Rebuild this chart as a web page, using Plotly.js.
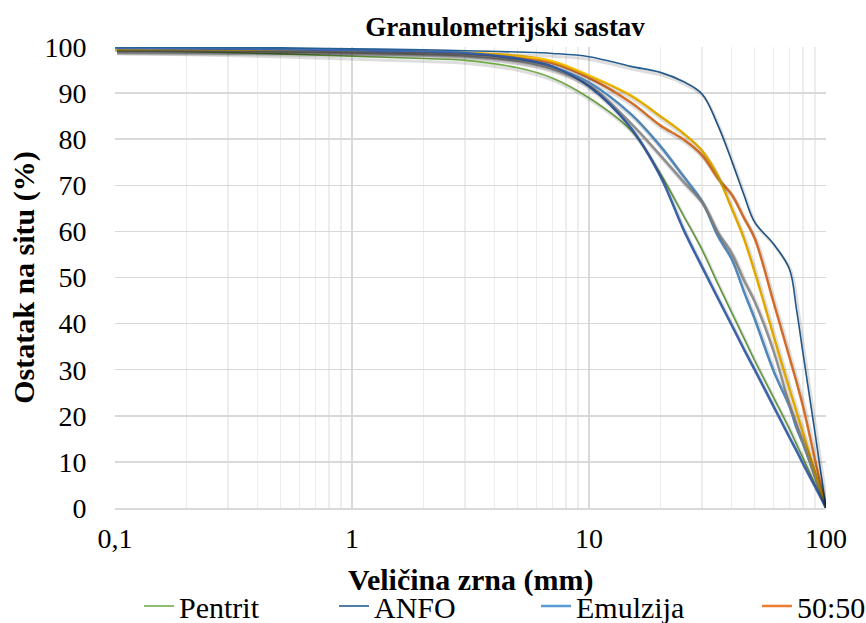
<!DOCTYPE html>
<html>
<head>
<meta charset="utf-8">
<script src="https://cdn.plot.ly/plotly-3.0.1.min.js"></script>
<style>html,body{margin:0;padding:0;background:#fff;}#chart{width:866px;height:623px;}</style>
</head>
<body>
<div id="chart"></div>
<script>
// Grain size (mm)
const grainSize = [0.1,0.2,0.5,1,2,3,5,7,10,15,20,25,30,35,40,45,50,60,70,75,80,90,100];
// Residue on sieve (%)
const pentrit  = [99.2,99.0,98.5,98.0,97.5,97.1,95.5,93.3,89.0,82.0,72.5,63.5,56.0,48.6,42.4,36.9,32.0,24.0,17.2,13.9,10.8,5.1,0];
const anfo     = [100,99.9,99.8,99.6,99.4,99.2,98.9,98.6,97.9,95.8,94.5,92.5,89.8,83.0,75.3,68.0,62.0,57.3,51.9,43.2,33.5,16.0,0];
const emulzija = [99.6,99.5,99.3,99.1,98.8,98.4,97.2,95.6,92.3,85.5,78.5,72.0,66.5,59.0,54.0,47.0,41.0,29.8,22.1,17.4,13.9,6.6,0];
const mix5050  = [99.5,99.4,99.3,99.1,98.9,98.6,97.8,96.5,93.3,88.0,83.0,80.0,76.5,71.5,68.0,63.0,58.5,44.7,32.8,27.4,22.0,10.3,0];
const series5  = [99.3,99.2,99.0,98.8,98.5,98.2,97.0,95.3,91.8,83.5,76.5,70.8,66.3,59.8,55.3,49.5,44.8,34.1,22.5,18.2,14.2,6.7,0];
const series6  = [99.5,99.5,99.4,99.3,99.1,98.8,98.1,96.9,93.8,89.5,85.0,81.3,77.5,72.0,65.0,58.5,51.2,37.4,25.9,20.9,16.3,7.7,0];
const series7  = [99.8,99.7,99.5,99.3,99.0,98.7,97.5,95.8,91.5,82.5,72.0,60.5,52.3,45.5,39.7,34.5,30.0,22.1,15.4,12.5,9.6,4.6,0];

const xTickVals = [0.1,1,10,100];
const xTickText = ['0,1','1','10','100'];
const xMinorVals = [0.2,0.3,0.4,0.5,0.6,0.7,0.8,0.9,2,3,4,5,6,7,8,9,20,30,40,50,60,70,80,90];
const xTitle = 'Veličina zrna (mm)';

const FONT = 'Liberation Serif';

// plot area: 711 px wide (3 decades), 461 px tall (100 units)
const SHX = 2 * 3 / 711;     // shadow shift right (log units)
const SHY = 3 * 100 / 461;   // shadow shift down (value units)

const specs = [
  ['Pentrit', pentrit, '#70AD47', 1.6, 'legend', true],
  ['Emulzija', emulzija, '#5B9BD5', 2.5, 'legend3', true],
  ['50:50', mix5050, '#ED7D31', 2.5, 'legend4', true],
  ['Serija 5', series5, '#A5A5A5', 2.5, 'legend', false],
  ['Serija 6', series6, '#FFC000', 2.5, 'legend', false],
  ['Serija 7', series7, '#4472C4', 2.5, 'legend', false],
  ['ANFO', anfo, '#255E91', 1.6, 'legend2', true]
];

const data = [];
specs.forEach(s => {
  data.push({x: grainSize, y: s[1], type: 'scatter', mode: 'lines', xaxis: 'x2', yaxis: 'y2',
    line: {color: 'rgba(0,0,0,0.13)', width: s[3] + 1.5, shape: 'spline', smoothing: 1},
    showlegend: false, hoverinfo: 'skip'});
});
specs.forEach(s => {
  data.push({x: grainSize, y: s[1], name: s[0], type: 'scatter', mode: 'lines',
    line: {color: s[2], width: s[3], shape: 'spline', smoothing: 1},
    legend: s[4], showlegend: s[5], hoverinfo: 'x+y+name'});
});

function leg(xpx) {
  return {
    orientation: 'h', xref: 'container', yref: 'container',
    x: xpx/866, xanchor: 'left', y: 1 - 606/623, yanchor: 'middle',
    font: {family: FONT, size: 30, color: '#000'},
    bgcolor: 'rgba(0,0,0,0)', borderwidth: 0
  };
}

const layout = {
  width: 866, height: 623,
  paper_bgcolor: '#ffffff', plot_bgcolor: '#ffffff',
  margin: {l: 115, r: 40, t: 47, b: 115, autoexpand: false},
  font: {family: FONT, color: '#000000', size: 28},
  title: {text: '<b>Granulometrijski sastav</b>', font: {family: FONT, size: 27, color: '#000'},
          x: 505/866, xref: 'container', xanchor: 'center', y: 1 - 27/623, yref: 'container', yanchor: 'middle'},
  xaxis: {
    type: 'log', range: [-1, 2],
    tickvals: xTickVals, ticktext: xTickText,
    tickfont: {family: FONT, size: 28, color: '#000'},
    ticks: 'outside', ticklen: 0, tickcolor: 'rgba(0,0,0,0)',
    ticklabelstandoff: 5,
    showgrid: true, gridcolor: '#d9d9d9', gridwidth: 1.5,
    minor: {tickvals: xMinorVals, showgrid: true, gridcolor: '#ededed', gridwidth: 1.5, ticks: ''},
    showline: true, linecolor: '#d9d9d9', linewidth: 1.5,
    zeroline: false, automargin: false
  },
  yaxis: {
    range: [0, 100], dtick: 10, tick0: 0,
    tickfont: {family: FONT, size: 28, color: '#000'},
    ticks: 'outside', ticklen: 0, tickcolor: 'rgba(0,0,0,0)',
    ticklabelstandoff: 22,
    showgrid: true, gridcolor: '#d9d9d9', gridwidth: 1.5,
    showline: false, zeroline: false, automargin: true,
    title: {text: '<b>Ostatak na situ (%)</b>', font: {family: FONT, size: 30, color: '#000'}, standoff: 0}
  },
  xaxis2: {type: 'log', overlaying: 'x', anchor: 'y', range: [-1 - SHX, 2 - SHX], visible: false, showgrid: false},
  yaxis2: {overlaying: 'y', anchor: 'x', range: [SHY, 100 + SHY], visible: false, showgrid: false},
  annotations: [{
    text: '<b>' + xTitle + '</b>', xref: 'paper', yref: 'paper', x: 0.5, y: -(580 - 508) / 461,
    xanchor: 'center', yanchor: 'middle', showarrow: false,
    font: {family: FONT, size: 30, color: '#000'}
  }],
  showlegend: true,
  legend: leg(139),
  legend2: leg(334),
  legend3: leg(536),
  legend4: leg(757)
};

Plotly.newPlot('chart', data, layout, {displayModeBar: false, staticPlot: true});
</script>
</body>
</html>
